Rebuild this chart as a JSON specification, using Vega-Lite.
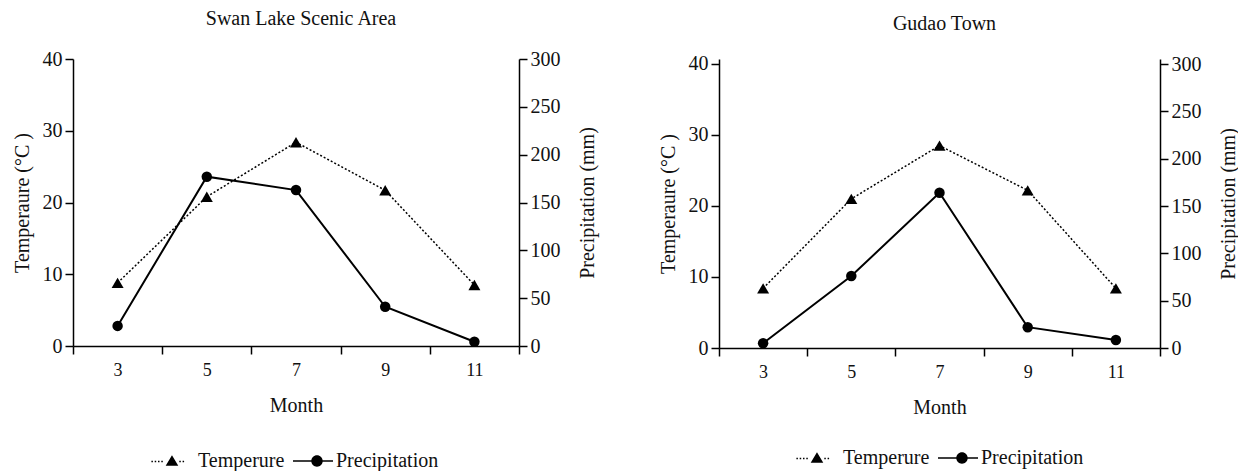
{
  "$schema": "https://vega.github.io/schema/vega-lite/v6.json",
  "autosize": {"type": "pad"},
  "padding": {"left": 12, "top": 9, "right": 0, "bottom": 0},
  "background": "white",
  "datasets": {
    "swan": [
      {"month": 3, "temp": 8.8, "precip": 21},
      {"month": 5, "temp": 20.8, "precip": 177},
      {"month": 7, "temp": 28.4, "precip": 163},
      {"month": 9, "temp": 21.7, "precip": 41},
      {"month": 11, "temp": 8.5, "precip": 4.5}
    ],
    "gudao": [
      {"month": 3, "temp": 8.4, "precip": 5},
      {"month": 5, "temp": 21.0, "precip": 76},
      {"month": 7, "temp": 28.5, "precip": 164},
      {"month": 9, "temp": 22.2, "precip": 22},
      {"month": 11, "temp": 8.4, "precip": 8.5}
    ]
  },
  "spacing": 61,
  "resolve": {"scale": {"shape": "independent"}, "legend": {"shape": "independent"}},
  "hconcat": [
    {
      "width": 446,
      "height": 287,
      "title": {"text": "Swan Lake Scenic Area", "offset": 20, "dx": 5},
      "data": {"name": "swan"},
      "encoding": {
        "x": {"field": "month", "type": "ordinal", "scale": {"type": "band", "paddingInner": 0, "paddingOuter": 0},
              "axis": {"title": "Month", "labelAngle": 0, "tickBand": "extent", "labelPadding": 7, "titlePadding": 16, "labelFontSize": 18}}
      },
      "resolve": {"scale": {"y": "independent"}},
      "layer": [
        {
          "encoding": {"y": {"field": "temp", "type": "quantitative", "scale": {"domain": [0, 40], "nice": false},
                             "axis": {"title": "Temperaure (°C )", "orient": "left", "values": [0, 10, 20, 30, 40], "titlePadding": 10}}},
          "layer": [
            {"mark": {"type": "line", "color": "black", "strokeWidth": 1.5, "strokeDash": [2, 2]}},
            {"mark": {"type": "point", "shape": "triangle-up", "filled": true, "color": "black", "size": 144, "opacity": 1}},
            {"mark": {"type": "point", "filled": true, "fill": "black", "opacity": 0, "size": 144},
             "encoding": {"shape": {"datum": "Temperure", "type": "nominal",
               "scale": {"domain": ["Temperure", "Precipitation"],
                         "range": ["M-1.17,-0.95L-0.12,0.8L-2.22,0.8ZM-4.6,-0.03h0.25v0.25h-0.25ZM-4.05,-0.03h0.25v0.25h-0.25ZM-3.5,-0.03h0.25v0.25h-0.25ZM-2.95,-0.03h0.25v0.25h-0.25ZM0.05,-0.03h0.25v0.25h-0.25ZM0.6,-0.03h0.25v0.25h-0.25Z",
                                   "M-4,-0.14H-0.9V0.14H-4ZM0.9,-0.14H2.67V0.14H0.9ZM0.95,0A0.95,0.95 0 1,1 -0.95,0A0.95,0.95 0 1,1 0.95,0Z"]},
               "legend": {"orient": "none", "legendX": 96, "legendY": 392,
                          "encode": {"symbols": {"update": {"fill": {"value": "black"}, "strokeWidth": {"value": 0}, "opacity": {"value": 1}}}}}}}}
          ]
        },
        {
          "encoding": {"y": {"field": "precip", "type": "quantitative", "scale": {"domain": [0, 300], "nice": false},
                             "axis": {"title": "Precipitation (mm)", "orient": "right", "values": [0, 50, 100, 150, 200, 250, 300], "titleAngle": 270, "titleBaseline": "top", "titlePadding": 17}}},
          "layer": [
            {"mark": {"type": "line", "color": "black", "strokeWidth": 2}},
            {"mark": {"type": "point", "shape": "circle", "filled": true, "color": "black", "size": 110, "opacity": 1}},
            {"mark": {"type": "point", "filled": true, "fill": "black", "opacity": 0, "size": 144},
             "encoding": {"shape": {"datum": "Precipitation", "type": "nominal"}}}
          ]
        }
      ]
    },
    {
      "width": 441,
      "height": 289,
      "title": {"text": "Gudao Town", "offset": 20, "dx": 5},
      "data": {"name": "gudao"},
      "encoding": {
        "x": {"field": "month", "type": "ordinal", "scale": {"type": "band", "paddingInner": 0, "paddingOuter": 0},
              "axis": {"title": "Month", "labelAngle": 0, "tickBand": "extent", "labelPadding": 7, "titlePadding": 16, "labelFontSize": 18}}
      },
      "resolve": {"scale": {"y": "independent"}},
      "layer": [
        {
          "encoding": {"y": {"field": "temp", "type": "quantitative", "scale": {"domain": [0, 40.7], "nice": false},
                             "axis": {"title": "Temperaure (°C )", "orient": "left", "values": [0, 10, 20, 30, 40], "titlePadding": 10}}},
          "layer": [
            {"mark": {"type": "line", "color": "black", "strokeWidth": 1.5, "strokeDash": [2, 2]}},
            {"mark": {"type": "point", "shape": "triangle-up", "filled": true, "color": "black", "size": 144, "opacity": 1}},
            {"mark": {"type": "point", "filled": true, "fill": "black", "opacity": 0, "size": 144},
             "encoding": {"shape": {"datum": "Temperure", "type": "nominal",
               "scale": {"domain": ["Temperure", "Precipitation"],
                         "range": ["M-1.17,-0.95L-0.12,0.8L-2.22,0.8ZM-4.6,-0.03h0.25v0.25h-0.25ZM-4.05,-0.03h0.25v0.25h-0.25ZM-3.5,-0.03h0.25v0.25h-0.25ZM-2.95,-0.03h0.25v0.25h-0.25ZM0.05,-0.03h0.25v0.25h-0.25ZM0.6,-0.03h0.25v0.25h-0.25Z",
                                   "M-4,-0.14H-0.9V0.14H-4ZM0.9,-0.14H2.67V0.14H0.9ZM0.95,0A0.95,0.95 0 1,1 -0.95,0A0.95,0.95 0 1,1 0.95,0Z"]},
               "legend": {"orient": "none", "legendX": 95, "legendY": 389,
                          "encode": {"symbols": {"update": {"fill": {"value": "black"}, "strokeWidth": {"value": 0}, "opacity": {"value": 1}}}}}}}}
          ]
        },
        {
          "encoding": {"y": {"field": "precip", "type": "quantitative", "scale": {"domain": [0, 305.3], "nice": false},
                             "axis": {"title": "Precipitation (mm)", "orient": "right", "values": [0, 50, 100, 150, 200, 250, 300], "titleAngle": 270, "titleBaseline": "top", "titlePadding": 17}}},
          "layer": [
            {"mark": {"type": "line", "color": "black", "strokeWidth": 2}},
            {"mark": {"type": "point", "shape": "circle", "filled": true, "color": "black", "size": 110, "opacity": 1}},
            {"mark": {"type": "point", "filled": true, "fill": "black", "opacity": 0, "size": 144},
             "encoding": {"shape": {"datum": "Precipitation", "type": "nominal"}}}
          ]
        }
      ]
    }
  ],
  "config": {
    "view": {"stroke": null},
    "font": "Liberation Serif",
    "axis": {"grid": false, "domainColor": "black", "tickColor": "black", "domainWidth": 1.5, "tickWidth": 1.5, "tickSize": 8,
             "labelFont": "Liberation Serif", "titleFont": "Liberation Serif", "labelFontSize": 20, "titleFontSize": 20,
             "titleFontWeight": "normal", "labelColor": "#111", "titleColor": "#111", "labelPadding": 3},
    "title": {"font": "Liberation Serif", "fontSize": 20, "fontWeight": "normal", "color": "#111"},
    "legend": {"direction": "horizontal", "title": null, "symbolSize": 144, "labelFont": "Liberation Serif", "labelFontSize": 20,
               "labelColor": "#111", "labelOffset": 9, "columnPadding": 8, "padding": 0,
               "symbolStrokeWidth": 0, "symbolFillColor": "black", "symbolOpacity": 1}
  }
}
